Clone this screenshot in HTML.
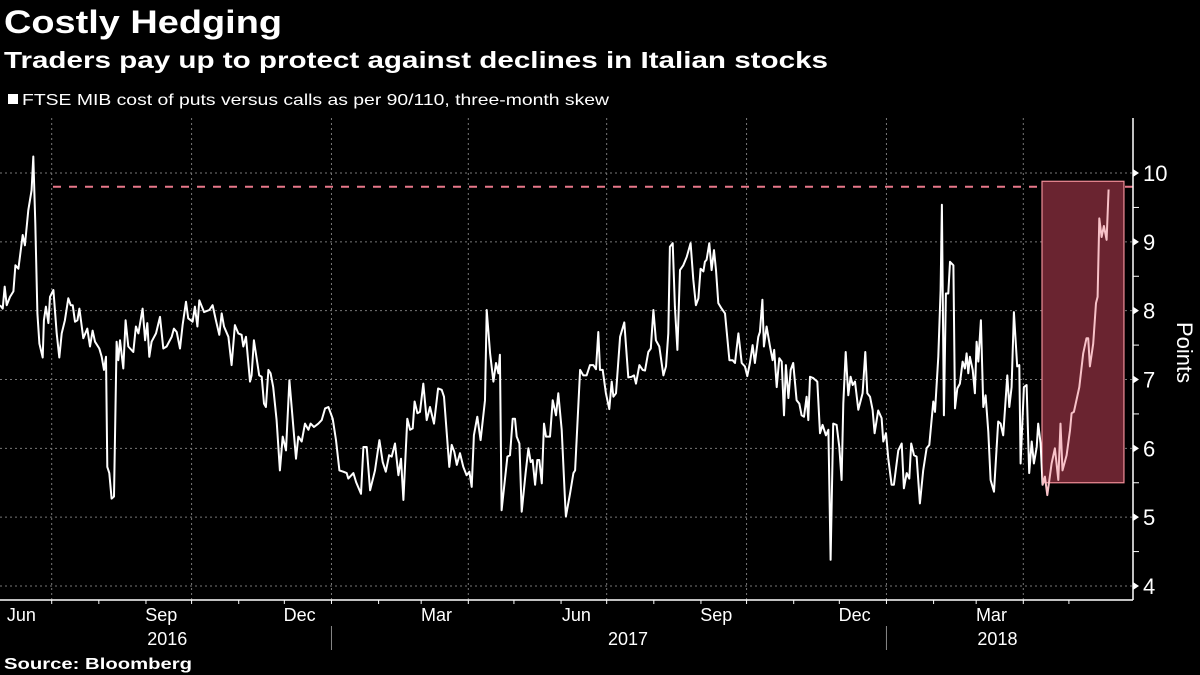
<!DOCTYPE html>
<html><head><meta charset="utf-8">
<style>
body{margin:0;background:#000;width:1200px;height:675px;overflow:hidden;font-family:"Liberation Sans",sans-serif;color:#fff}
svg{position:absolute;left:0;top:0}
</style></head>
<body>
<svg id="chart" width="1200" height="675">
<text x="4" y="33" font-size="32" font-weight="bold" fill="#fff" textLength="278" lengthAdjust="spacingAndGlyphs">Costly Hedging</text>
<text x="4" y="68" font-size="23" font-weight="bold" fill="#fff" textLength="824" lengthAdjust="spacingAndGlyphs">Traders pay up to protect against declines in Italian stocks</text>
<rect x="8" y="94" width="10" height="10" fill="#fff"/>
<text x="22" y="105" font-size="16" fill="#fff" textLength="587" lengthAdjust="spacingAndGlyphs">FTSE MIB cost of puts versus calls as per 90/110, three-month skew</text>
<text x="1177" y="322" font-size="22" fill="#fff" transform="rotate(90 1177 322)">Points</text>
<text x="4" y="669" font-size="16" font-weight="bold" fill="#fff" textLength="188" lengthAdjust="spacingAndGlyphs">Source: Bloomberg</text>
<g id="g"></g>
</svg>
<script>
const days=[0,1.8,3.1,4.4,6.6,8.8,10.1,12.1,14.9,16.4,18.6,20.8,21.9,23.2,24.6,25.9,28.1,28.9,30.2,31.8,32.9,35.1,37.3,39.0,40.6,42.7,44.9,46.5,47.8,49.3,50.9,52.2,54.8,57.4,59.2,60.9,62.5,65.3,66.9,68.4,69.7,70.6,71.9,73.4,75.0,76.7,77.8,78.9,81.1,82.6,84.4,87.7,89.4,91.0,93.8,95.4,96.9,98.2,99.7,102.6,105.2,107.4,109.6,112.9,114.4,116.2,118.4,120.1,122.3,123.8,126.7,128.2,129.8,131.1,134.2,137.7,139.8,142.0,144.2,145.8,147.3,150.2,152.3,154.5,156.7,158.9,160.0,161.8,164.4,165.5,167.0,170.5,172.1,173.6,174.9,176.5,178.0,179.7,181.9,184.1,185.9,188.1,190.3,
194.7,196.2,198.4,200.6,202.8,204.3,206.5,209.4,211.6,213.8,216.0,218.8,221.0,223.2,225.8,228.0,229.1,232.4,234.2,237.4,239.0,241.2,243.4,246.6,249.5,251.7,253.7,255.9,257.6,259.8,262.0,263.7,265.3,267.9,269.7,271.4,272.7,274.5,276.2,278.4,280.6,282.8,285.4,288.1,290.5,292.0,295.5,297.1,298.8,300.4,302.5,304.7,306.9,308.7,310.2,311.7,313.9,316.1,319.0,320.1,322.3,324.5,326.2,327.8,328.8,329.9,333.7,335.4,337.2,338.7,339.8,341.6,343.1,345.7,347.5,349.0,350.3,351.9,353.4,354.7,356.3,357.8,359.1,361.7,363.5,365.7,367.2,369.4,371.6,372.2,374.9,377.1,378.2,
381.5,383.6,385.8,388.0,390.2,392.0,393.5,394.6,396.4,398.5,400.7,402.3,403.4,405.1,407.8,410.6,413.2,415.4,417.0,418.3,420.5,422.7,424.2,426.4,428.0,429.7,431.4,433.6,436.3,438.0,439.5,440.6,442.4,443.9,445.5,447.2,449.4,451.6,454.2,456.0,457.7,459.3,460.8,462.6,463.6,464.7,466.5,468.0,469.6,470.9,472.4,474.6,476.8,479.7,481.8,483.4,485.6,487.8,489.9,491.5,493.2,495.0,496.5,498.7,499.8,501.4,502.4,504.2,506.4,508.1,509.2,510.8,512.5,514.1,515.6,516.9,518.5,520.0,521.7,523.9,525.7,527.2,528.8,530.5,531.6,532.7,534.9,537.5,539.3,541.0,543.2,544.8,546.3,548.0,550.2,552.0,553.5,554.6,556.2,557.9,559.4,560.8,562.3,564.5,567.3,569.1,570.4,
572.2,573.9,575.2,577.6,579.8,580.9,582.7,584.2,586.4,587.9,590.8,593.0,594.5,596.3,598.0,599.3,601.1,602.8,605.0,607.2,609.4,611.2,613.8,614.9,617.1,618.6,619.5,620.8,622.1,623.7,624.8,627.0,628.1,629.6,631.3,633.1,634.6,635.7,636.8,637.9,639.7,641.2,642.3,643.4,645.1,646.7,648.2,650.0,651.5,653.7,656.5,658.1,659.8,662.5,663.8,665.3,666.8,669.0,670.4,671.2,673.4,675.2,676.9,678.5,680.0,681.8,682.8,684.4,685.7,687.2,688.8,691.6,693.8,696.0,697.5,698.8,701.5,703.7,704.8,706.3,709.8,712.4,714.6,715.7,716.8,719.0,720.8,721.9,723.0,724.5,726.0,727.8,729.1];
const values=[8.08,8.03,8.35,8.08,8.20,8.28,8.66,8.61,9.10,8.95,9.46,9.75,10.24,9.27,7.96,7.52,7.32,7.86,8.06,7.82,8.20,8.30,7.67,7.32,7.67,7.86,8.18,8.08,8.08,7.84,7.86,8.03,7.60,7.74,7.48,7.71,7.55,7.45,7.33,7.14,7.33,5.73,5.64,5.27,5.30,7.55,7.28,7.57,7.16,7.86,7.48,7.40,7.77,7.67,8.03,7.57,7.82,7.33,7.55,7.67,7.91,7.45,7.48,7.62,7.74,7.69,7.45,7.79,8.13,7.89,7.84,8.06,7.77,8.15,7.98,8.01,8.08,7.86,7.65,7.96,7.77,7.62,7.21,7.79,7.67,7.65,7.48,7.62,6.97,7.06,7.57,7.06,7.04,6.65,6.60,7.14,7.09,6.89,6.41,5.68,6.17,5.97,6.99,
5.85,6.17,6.10,6.36,6.27,6.36,6.31,6.36,6.41,6.58,6.60,6.43,6.12,5.68,5.66,5.64,5.56,5.64,5.51,5.34,6.02,6.02,5.39,5.68,6.12,5.80,5.66,5.90,5.88,6.07,5.61,5.85,5.25,6.43,6.27,6.29,6.68,6.51,6.53,6.94,6.41,6.60,6.36,6.87,6.85,6.75,5.73,6.05,5.95,5.76,5.93,5.73,5.61,5.66,5.44,6.19,6.46,6.12,6.70,8.01,7.38,6.97,7.24,7.09,7.36,5.10,5.88,5.90,6.43,6.43,6.17,6.07,5.08,5.64,6.00,5.80,5.83,5.47,5.83,5.83,5.49,6.36,6.17,6.17,6.70,6.48,6.80,6.27,5.25,5.01,5.34,5.64,5.68,
7.14,7.06,7.06,7.21,7.21,7.15,7.69,7.14,7.14,6.80,6.57,6.97,6.75,6.80,7.62,7.83,7.03,7.04,7.06,6.94,7.21,7.14,7.13,7.40,7.45,8.01,7.57,7.48,7.06,7.19,7.67,8.93,8.98,8.06,7.43,8.59,8.66,8.78,8.98,8.45,8.08,8.18,8.61,8.57,8.71,8.74,8.98,8.59,8.88,8.59,8.11,8.03,7.96,7.28,7.28,7.24,7.67,7.24,7.19,7.05,7.24,7.50,7.24,7.62,7.69,8.16,7.48,7.77,7.48,7.28,7.43,6.89,7.31,7.26,6.48,7.21,6.73,7.14,7.24,6.70,6.65,6.48,6.46,6.75,6.41,7.04,7.02,6.97,6.22,6.34,6.19,6.27,4.38,6.36,6.34,6.02,5.54,6.65,7.40,6.77,7.04,6.92,6.97,6.56,6.80,7.40,6.80,
6.75,6.56,6.22,6.55,6.44,6.10,6.22,5.85,5.47,5.47,5.97,6.07,5.42,5.64,5.56,6.07,5.90,5.88,5.20,5.68,6.00,6.05,6.68,6.53,7.33,8.30,9.54,6.48,8.25,8.25,8.71,8.66,6.58,6.87,6.94,7.26,7.16,7.38,7.09,7.33,7.14,6.80,7.55,7.26,7.86,6.60,6.77,6.24,5.54,5.37,6.39,6.36,6.19,7.06,6.60,6.89,7.98,7.19,7.21,5.78,6.89,6.92,5.64,6.10,5.78,6.02,6.36,6.07,5.47,5.59,5.32,5.78,6.00,5.54,6.36,5.68,5.90,6.26,6.51,6.53,6.89,7.38,7.60,7.60,7.19,7.52,8.11,8.20,9.34,9.07,9.23,9.03,9.76];
const yTicks=[4,5,6,7,8,9,10];
const refLevel=[9.8];
const highlightDays=[685.3,739.2];
const highlightRange=[5.5,9.88];
const monthLabels=["Jun","Sep","Dec","Mar","Jun","Sep","Dec","Mar"];
const yearLabels=["2016","2017","2018"];

const NS="http://www.w3.org/2000/svg";
const g=document.getElementById('g');
const START=new Date(2016,4,28);
const X0=0,PXD=1.5205,PLOT_R=1133,PLOT_T=118,PLOT_B=600;
function xs(d){return X0+d*PXD;}
function ys(v){return 586-(v-4)*68.83;}
function dayOf(y,m,dd){return (new Date(y,m,dd)-START)/86400000;}
function el(t,a,p){const e=document.createElementNS(NS,t);for(const k in a)e.setAttribute(k,a[k]);(p||g).appendChild(e);return e;}

yTicks.forEach(v=>{
  const l=el('line',{x1:0,x2:PLOT_R,y1:ys(v),y2:ys(v),stroke:'#777','stroke-width':1,'stroke-dasharray':'2,3'});
  
  
});
const quarters=[[2016,6],[2016,9],[2017,0],[2017,3],[2017,6],[2017,9],[2018,0],[2018,3]];
quarters.forEach(q=>{
  const x=xs(dayOf(q[0],q[1],1));
  const l=el('line',{x1:x,x2:x,y1:PLOT_T,y2:PLOT_B,stroke:'#777','stroke-width':1,'stroke-dasharray':'2,3'});
  
  
});
const rl=el('line',{x1:53,x2:PLOT_R,y1:ys(refLevel[0]),y2:ys(refLevel[0]),stroke:'#e8788a','stroke-width':2,'stroke-dasharray':'8,8'});


const hx1=xs(highlightDays[0]),hx2=xs(highlightDays[1]);
const hb=el('rect',{x:hx1,y:ys(highlightRange[1]),width:hx2-hx1,height:ys(highlightRange[0])-ys(highlightRange[1]),fill:'#6a2430',stroke:'#f08e98','stroke-width':1.2});


let d='';
days.forEach((dv,i)=>{d+=(i?'L':'M')+xs(dv).toFixed(1)+','+ys(values[i]).toFixed(1);});
const defs=el('defs',{});
const cp=el('clipPath',{id:'clipL'},defs);el('rect',{x:0,y:0,width:hx1,height:675},cp);
const cp2=el('clipPath',{id:'clipR'},defs);el('rect',{x:hx1,y:0,width:600,height:675},cp2);
const ln=el('path',{d:d,fill:'none',stroke:'#fff','stroke-width':2,'stroke-linejoin':'round','clip-path':'url(#clipL)'});


const ln2=el('path',{d:d,fill:'none',stroke:'#f8c2c8','stroke-width':2,'stroke-linejoin':'round','clip-path':'url(#clipR)'});


const xa=el('line',{x1:0,x2:PLOT_R,y1:PLOT_B,y2:PLOT_B,stroke:'#fff','stroke-width':1.5});


const ya=el('line',{x1:PLOT_R,x2:PLOT_R,y1:PLOT_T,y2:PLOT_B,stroke:'#fff','stroke-width':1.5});


yTicks.forEach(v=>{
  const y=ys(v);
  el('path',{d:`M${PLOT_R},${y-4}L${PLOT_R+6},${y}L${PLOT_R},${y+4}Z`,fill:'#fff'});
  const t=el('text',{x:PLOT_R+10,y:y+8,'font-size':22,fill:'#fff'});t.textContent=v;
  
  
  if(v<10){el('line',{x1:PLOT_R,x2:PLOT_R+6,y1:ys(v+0.5),y2:ys(v+0.5),stroke:'#fff','stroke-width':1});}
});
for(let k=1;k<24;k++){
  const dt=new Date(2016,5+k,1);
  const x=xs((dt-START)/86400000);
  el('line',{x1:x,x2:x,y1:PLOT_B,y2:PLOT_B+4,stroke:'#fff','stroke-width':1});
}
const labelMonths=[[2016,5],[2016,8],[2016,11],[2017,2],[2017,5],[2017,8],[2017,11],[2018,2]];
labelMonths.forEach((m,i)=>{
  const x=xs(dayOf(m[0],m[1],15));
  const t=el('text',{x:x-6,y:621,'font-size':18,fill:'#fff','text-anchor':'middle'});t.textContent=monthLabels[i];
  
  
});
[[2016,8],[2017,6],[2018,2]].forEach((m,i)=>{
  const x=xs(dayOf(m[0],m[1],15));
  const t=el('text',{x:x,y:645,'font-size':18,fill:'#fff','text-anchor':'middle'});t.textContent=yearLabels[i];
  
  
});
[[2017,0],[2018,0]].forEach(m=>{
  const x=xs(dayOf(m[0],m[1],1));
  const l=el('line',{x1:x,x2:x,y1:626,y2:650,stroke:'#888','stroke-width':1});
  
  
});
</script>
</body></html>
